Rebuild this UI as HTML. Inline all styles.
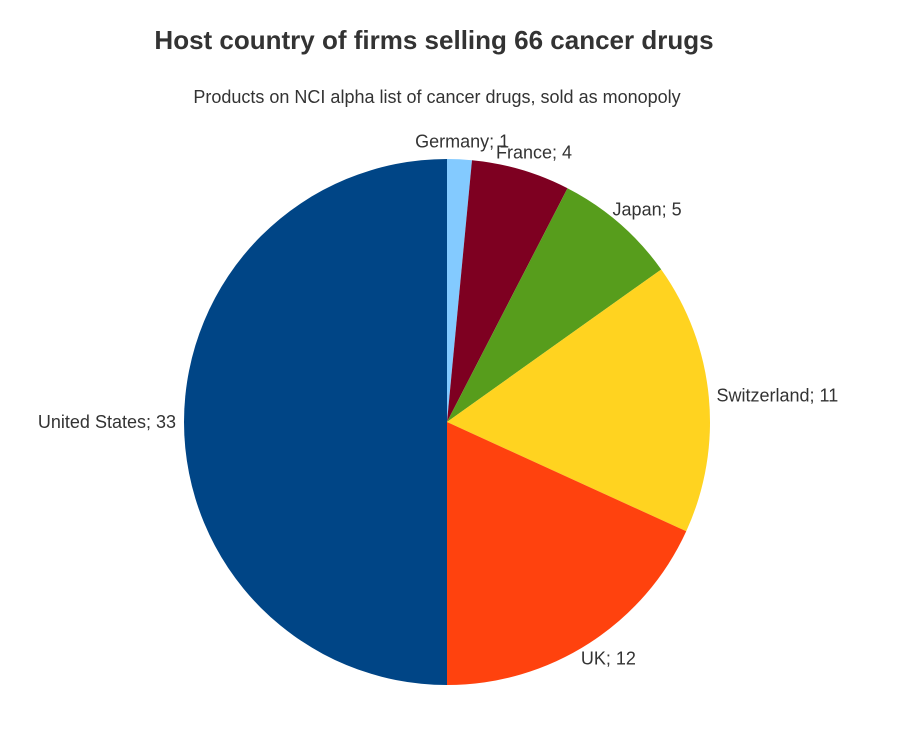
<!DOCTYPE html>
<html><head><meta charset="utf-8"><style>
body{margin:0;background:#fff;}
svg{display:block;font-family:"Liberation Sans",sans-serif;}
</style></head><body>
<svg id="chart" width="903" height="743">
<text x="434" y="49" text-anchor="middle" font-size="26" font-weight="bold" fill="#333">Host country of firms selling 66 cancer drugs</text>
<text x="437" y="103" text-anchor="middle" font-size="18" fill="#333">Products on NCI alpha list of cancer drugs, sold as monopoly</text>
<g id="slices"></g><g id="labels"></g>
</svg>
<script>
const categories=["Germany","France","Japan","Switzerland","UK","United States"];
const values=[1,4,5,11,12,33];
const colors=["#83caff","#7e0021","#579d1c","#ffd320","#ff420e","#004586"];
const cx=447,cy=422,r=263;
const NS="http://www.w3.org/2000/svg";
const total=values.reduce((a,b)=>a+b,0);
const sg=document.getElementById('slices'),lg=document.getElementById('labels');
function pt(a,rr){return [cx+rr*Math.sin(a),cy-rr*Math.cos(a)];}
let acc=0;
values.forEach((v,i)=>{
  const a0=acc/total*2*Math.PI;acc+=v;const a1=acc/total*2*Math.PI;
  const p0=pt(a0,r),p1=pt(a1,r);
  const path=document.createElementNS(NS,'path');
  path.setAttribute('d',`M${cx},${cy}L${p0[0]},${p0[1]}A${r},${r} 0 ${a1-a0>Math.PI?1:0} 1 ${p1[0]},${p1[1]}Z`);
  path.setAttribute('fill',colors[i]);
  
  
  sg.appendChild(path);
  const am=(a0+a1)/2,s=Math.sin(am),c=Math.cos(am);
  const lp=pt(am,r+8);
  const t=document.createElementNS(NS,'text');
  t.textContent=categories[i]+'; '+v;
  t.setAttribute('font-size','18');t.setAttribute('fill','#333');
  
  
  lg.appendChild(t);
  const w=t.getComputedTextLength();
  t.setAttribute('x',lp[0]-w*(1-s)/2);
  t.setAttribute('y',lp[1]-c*10+6);
});
</script>
</body></html>
